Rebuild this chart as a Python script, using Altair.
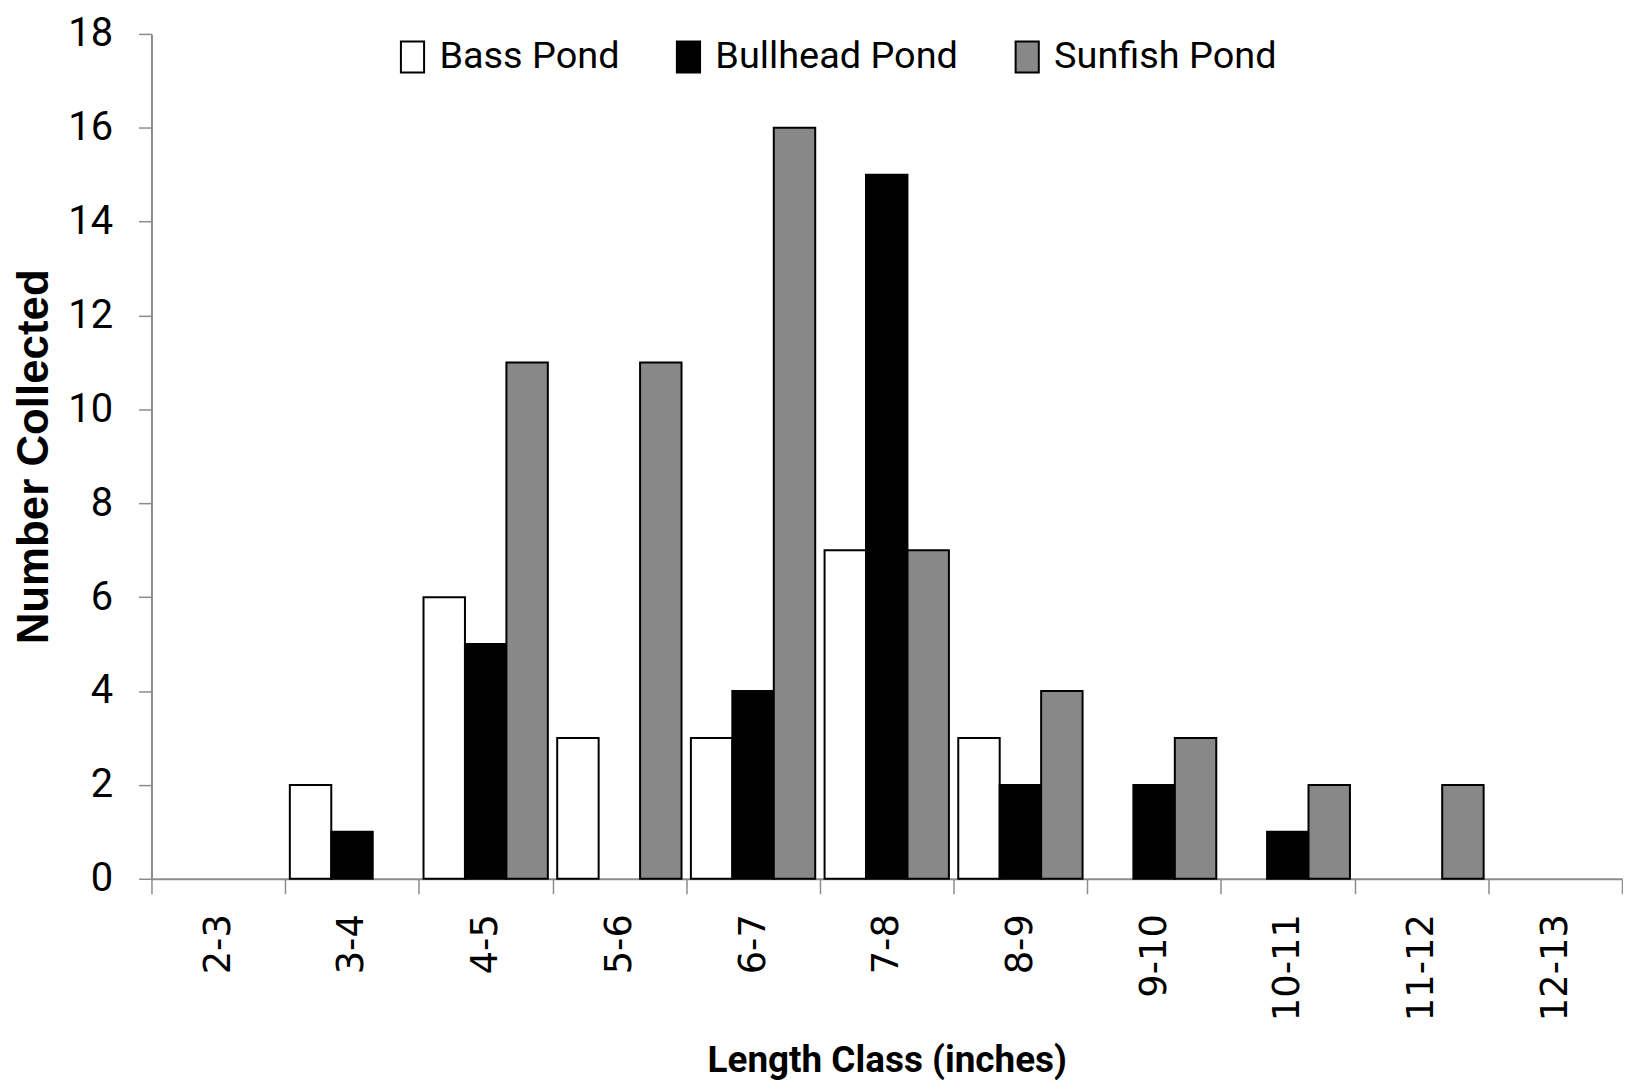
import altair as alt
import pandas as pd

classes = ["2-3", "3-4", "4-5", "5-6", "6-7", "7-8", "8-9", "9-10", "10-11", "11-12", "12-13"]
series = ["Bass Pond", "Bullhead Pond", "Sunfish Pond"]
bass = [0, 2, 6, 3, 3, 7, 3, 0, 0, 0, 0]
bullhead = [0, 1, 5, 0, 4, 15, 2, 2, 1, 0, 0]
sunfish = [0, 0, 11, 11, 16, 7, 4, 3, 2, 2, 0]
colors = ["#ffffff", "#000000", "#888888"]
y_ticks = [0, 2, 4, 6, 8, 10, 12, 14, 16, 18]

rows = []
for name, vals in zip(series, [bass, bullhead, sunfish]):
    for c, v in zip(classes, vals):
        rows.append({"Length": c, "Pond": name, "Count": v})
df = pd.DataFrame(rows)

chart = alt.Chart(df).transform_filter("datum.Count > 0").mark_bar(
    stroke="black", strokeWidth=2
).encode(
    x=alt.X(
        "Length:N",
        sort=classes,
        scale=alt.Scale(domain=classes, paddingInner=0, paddingOuter=0),
        axis=alt.Axis(
            title="Length Class (inches)",
            tickBand="extent",
            labelAngle=270,
            labelFont="DejaVu Sans",
            labelFontSize=37,
            labelPadding=20,
            tickSize=15,
            titleFont="Roboto",
            titleFontWeight="bold",
            titleFontSize=37,
            titlePadding=22,
        ),
    ),
    xOffset=alt.XOffset(
        "Pond:N", sort=series,
        scale=alt.Scale(domain=series, paddingInner=0, paddingOuter=0.113),
    ),
    y=alt.Y(
        "Count:Q",
        scale=alt.Scale(domain=[0, 18], nice=False),
        axis=alt.Axis(
            title="Number Collected",
            values=y_ticks,
            grid=False,
            labelFont="Roboto",
            labelFontSize=40,
            labelPadding=26,
            tickSize=13,
            titleFont="Liberation Sans",
            titleFontWeight="bold",
            titleFontSize=44,
            titlePadding=11,
        ),
    ),
    color=alt.Color(
        "Pond:N",
        sort=series,
        scale=alt.Scale(domain=series, range=colors),
        legend=alt.Legend(
            title=None,
            orient="none",
            legendX=243,
            legendY=4,
            direction="horizontal",
            symbolType="M-0.75,-1H0.75V1H-0.75Z",
            symbolSize=961,
            symbolStrokeColor="black",
            symbolStrokeWidth=2,
            symbolOpacity=1,
            labelFont="Roboto",
            labelFontSize=38,
            labelColor="black",
            labelLimit=400,
            labelOffset=8,
            columnPadding=50,
        ),
    ),
).properties(
    width=1476,
    height=848,
    padding={"left": 5, "top": 4, "right": 0, "bottom": 0},
).configure_view(
    stroke=None
).configure_axis(
    domainColor="#8c8c8c",
    domainWidth=2,
    tickColor="#8c8c8c",
    tickWidth=1.5,
    labelColor="black",
    titleColor="black",
)

chart.save("out.html", embed_options={"renderer": "svg", "actions": False})
